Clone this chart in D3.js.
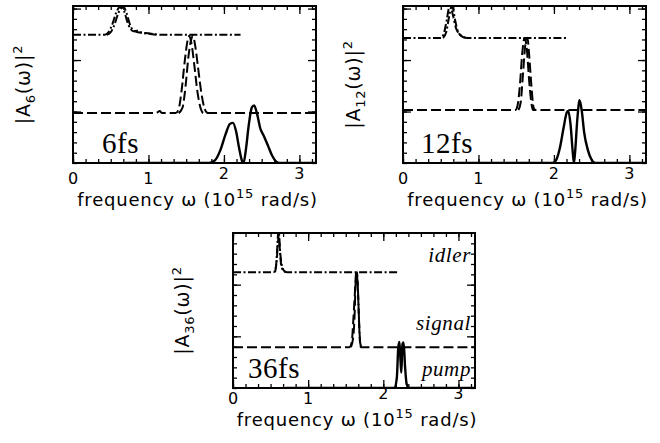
<!DOCTYPE html>
<meta charset="utf-8">
<head>
  <title>spectra</title>
</head>
<style>
  body { margin: 0; background: #fff; }
</style>
<script src="https://d3js.org/d3.v7.min.js"></script>
<div id="my_dataviz"></div>
<script>
  // frequency axis ticks (10^15 rad/s)
  var xLabels = [0, 1, 2, 3];

  // --- 6fs ---  [omega, |A|^2] above each baseline
  var pump6 = [[0.69,0],[1.80,0],[1.88,0.05],[1.95,0.24],[2.02,0.55],[2.08,0.76],[2.12,0.78],[2.16,0.62],[2.20,0.30],[2.24,0.04],[2.26,0],[2.29,0.25],[2.33,0.75],[2.37,1.08],[2.40,1.12],[2.44,0.95],[2.48,0.68],[2.53,0.52],[2.58,0.35],[2.64,0.14],[2.70,0.02],[2.75,0],[3.22,0]];
  var signal6a = [[0,0],[1.10,0],[1.15,0.04],[1.18,0],[1.36,0],[1.40,0.08],[1.44,0.45],[1.48,1.0],[1.52,1.42],[1.54,1.5],[1.57,1.35],[1.61,0.9],[1.65,0.4],[1.69,0.1],[1.73,0],[3.22,0]];
  var signal6b = [[1.40,0],[1.45,0.1],[1.49,0.5],[1.53,1.1],[1.57,1.45],[1.59,1.5],[1.62,1.3],[1.66,0.85],[1.70,0.4],[1.74,0.1],[1.78,0]];
  var idler6a = [[0,0],[0.42,0],[0.47,0.05],[0.52,0.2],[0.57,0.42],[0.61,0.53],[0.64,0.54],[0.68,0.45],[0.72,0.25],[0.76,0.12],[0.80,0.07],[0.85,0.08],[0.90,0.05],[1.0,0.03],[1.1,0.01],[1.2,0],[2.22,0]];
  var idler6b = [[0.45,0],[0.50,0.05],[0.55,0.2],[0.60,0.42],[0.64,0.52],[0.67,0.54],[0.71,0.42],[0.75,0.22],[0.79,0.1],[0.84,0.06],[0.9,0.04],[1.0,0.02],[1.1,0]];
  var base6 = [0, 0.97, 2.49];

  // --- 12fs ---
  var pump12 = [[0.69,0],[1.98,0],[2.03,0.06],[2.08,0.3],[2.13,0.7],[2.17,0.98],[2.19,1.01],[2.22,0.75],[2.25,0.2],[2.265,0],[2.28,0.2],[2.31,0.85],[2.34,1.22],[2.37,1.0],[2.40,0.6],[2.45,0.25],[2.50,0.06],[2.55,0],[3.22,0]];
  var signal12a = [[0,0],[1.49,0],[1.52,0.1],[1.55,0.5],[1.58,1.1],[1.61,1.4],[1.64,1.2],[1.67,0.6],[1.70,0.15],[1.72,0],[3.22,0]];
  var signal12b = [[1.53,0],[1.56,0.15],[1.59,0.7],[1.62,1.25],[1.65,1.4],[1.67,1.1],[1.70,0.5],[1.73,0.05],[1.75,0]];
  var idler12a = [[0,0],[0.50,0],[0.54,0.08],[0.58,0.35],[0.61,0.58],[0.63,0.6],[0.66,0.45],[0.70,0.2],[0.75,0.07],[0.80,0.02],[0.85,0],[2.19,0]];
  var idler12b = [[0.53,0],[0.57,0.1],[0.61,0.4],[0.64,0.6],[0.66,0.58],[0.69,0.35],[0.73,0.12],[0.78,0.03],[0.84,0]];
  var base12 = [0, 1.03, 2.43];

  // --- 36fs ---
  var pump36 = [[0.70,0],[2.15,0],[2.18,0.2],[2.20,0.8],[2.215,0.89],[2.23,0.5],[2.24,0.3],[2.255,0.85],[2.27,0.88],[2.29,0.4],[2.31,0.08],[2.34,0],[3.22,0]];
  var signal36a = [[0,0],[1.55,0],[1.58,0.1],[1.60,0.5],[1.62,1.0],[1.64,1.45],[1.66,1.2],[1.68,0.4],[1.70,0],[3.22,0]];
  var signal36b = [[1.57,0],[1.60,0.2],[1.62,0.7],[1.63,1.2],[1.65,1.45],[1.67,0.8],[1.69,0.1],[1.71,0]];
  var idler36a = [[0,0],[0.54,0],[0.57,0.1],[0.59,0.5],[0.60,0.76],[0.62,0.5],[0.64,0.15],[0.67,0.03],[0.72,0],[2.19,0]];
  var idler36b = [[0.56,0],[0.58,0.2],[0.60,0.6],[0.61,0.76],[0.63,0.35],[0.66,0.08],[0.70,0]];
  var base36 = [0, 0.79, 2.24];

  var sans = "DejaVu Sans, sans-serif";

  var svg = d3.select("#my_dataviz")
    .append("svg")
    .attr("width", 660)
    .attr("height", 443);

  var panels = [
    { left: 73, top: 6, w: 243, h: 157, ymax: 3.05, sub: "6", tag: "6fs", tagX: 29,
      pump: pump6, sig: [signal6a, signal6b], idl: [idler6a, idler6b], base: base6,
      labY: 21, titleY: 43, ylabX: 30, names: false },
    { left: 403, top: 6, w: 243, h: 157, ymax: 3.05, sub: "12", tag: "12fs", tagX: 18,
      pump: pump12, sig: [signal12a, signal12b], idl: [idler12a, idler12b], base: base12,
      labY: 21, titleY: 43, ylabX: 360, names: false },
    { left: 233, top: 233, w: 242, h: 155, ymax: 3.0, sub: "36", tag: "36fs", tagX: 15,
      pump: pump36, sig: [signal36a, signal36b], idl: [idler36a, idler36b], base: base36,
      labY: 16, titleY: 38, ylabX: 189, names: true }
  ];

  panels.forEach(function(p, i) {
    var g = svg.append("g")
      .attr("transform", "translate(" + p.left + "," + p.top + ")");

    var x = d3.scaleLinear().domain([0, 3.22]).range([0, p.w]);
    var y = d3.scaleLinear().domain([0, p.ymax]).range([p.h, 0]);

    var xMinor = d3.range(0, 3.22, 1 / 6);
    var yMinor = d3.range(0, p.ymax, 0.2);
    var yMajor = [1, 2, 3].filter(function(v) { return v < p.ymax; });

    // inward ticks on all four sides
    function ticks(axis, vals, len, tr) {
      var a = g.append("g")
        .attr("transform", tr || null)
        .call(axis.tickValues(vals).tickSize(-len).tickFormat(""));
      a.select(".domain").remove();
      a.selectAll("line").attr("stroke", "#000").attr("stroke-width", 1.3);
    }
    ticks(d3.axisBottom(x), xMinor, 4, "translate(0," + p.h + ")");
    ticks(d3.axisBottom(x), xLabels, 8, "translate(0," + p.h + ")");
    ticks(d3.axisTop(x), xMinor, 4);
    ticks(d3.axisTop(x), xLabels, 8);
    ticks(d3.axisLeft(y), yMinor, 4);
    ticks(d3.axisLeft(y), yMajor, 8);
    ticks(d3.axisRight(y), yMinor, 4, "translate(" + p.w + ",0)");
    ticks(d3.axisRight(y), yMajor, 8, "translate(" + p.w + ",0)");

    // tick numbers
    g.append("g").selectAll("text")
      .data(xLabels)
      .enter().append("text")
      .attr("x", function(d) { return x(d); })
      .attr("y", function(d) { return p.h + p.labY - (d >= 2 ? 5 : 0); })
      .attr("text-anchor", "middle")
      .style("font-family", sans)
      .style("font-size", "16px")
      .text(function(d) { return d; });

    // x title
    var t = g.append("text")
      .attr("x", p.w / 2 + 3)
      .attr("y", p.h + p.titleY)
      .attr("text-anchor", "middle")
      .style("font-family", sans)
      .style("font-size", "18px")
      .style("letter-spacing", "0.8px");
    t.append("tspan").text("frequency \u03c9 (10");
    t.append("tspan").attr("dy", -8).style("font-size", "13px").text("15");
    t.append("tspan").attr("dy", 8).text(" rad/s)");

    // y title
    var yl = svg.append("text")
      .attr("transform", "translate(" + p.ylabX + "," + (p.top + p.h / 2) + ") rotate(-90)")
      .attr("text-anchor", "middle")
      .style("font-family", sans)
      .style("font-size", "19px")
      .style("letter-spacing", "0.8px");
    yl.append("tspan").text("|A");
    yl.append("tspan").attr("dy", 5).style("font-size", "13px").text(p.sub);
    yl.append("tspan").attr("dy", -5).text("(\u03c9)|");
    yl.append("tspan").attr("dy", -8).style("font-size", "13px").text("2");

    // curves
    g.append("clipPath").attr("id", "clip" + i)
      .append("rect").attr("width", p.w).attr("height", p.h);
    var plot = g.append("g").attr("clip-path", "url(#clip" + i + ")");

    function line(b) {
      return d3.line()
        .x(function(d) { return x(d[0]); })
        .y(function(d) { return y(d[1] + b); })
        .curve(d3.curveMonotoneX);
    }

    p.idl.forEach(function(c) {
      plot.append("path").datum(c)
        .attr("d", line(p.base[2]))
        .attr("fill", "none").attr("stroke", "#000").attr("stroke-width", 2)
        .attr("stroke-dasharray", "8,2.5,2,2.5");
    });
    p.sig.forEach(function(c) {
      plot.append("path").datum(c)
        .attr("d", line(p.base[1]))
        .attr("fill", "none").attr("stroke", "#000").attr("stroke-width", 2)
        .attr("stroke-dasharray", "10,4");
    });
    plot.append("path").datum(p.pump)
      .attr("d", line(p.base[0]))
      .attr("fill", "none").attr("stroke", "#000").attr("stroke-width", 2.4);

    // frame
    g.append("rect")
      .attr("width", p.w).attr("height", p.h)
      .attr("fill", "none").attr("stroke", "#000").attr("stroke-width", 2);

    // pulse duration
    g.append("text")
      .attr("x", p.tagX)
      .attr("y", p.h - 10)
      .style("font-family", "Liberation Serif, serif")
      .style("font-size", "29px")
      .style("letter-spacing", "0.5px")
      .text(p.tag);

    if (p.names) {
      var nm = [["idler", 29], ["signal", 97], ["pump", 143]];
      g.selectAll(".nm").data(nm).enter().append("text")
        .attr("x", p.w - 4)
        .attr("y", function(d) { return d[1]; })
        .attr("text-anchor", "end")
        .style("font-family", "Liberation Serif, serif")
        .style("font-style", "italic")
        .style("font-size", "21px")
        .style("letter-spacing", "0.6px")
        .text(function(d) { return d[0]; });
    }
  });
</script>
